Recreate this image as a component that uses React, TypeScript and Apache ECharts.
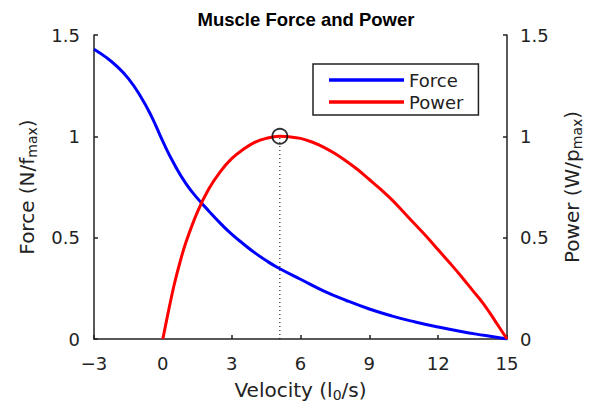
import React, { useEffect, useRef } from "react";
import * as echarts from "echarts";

const forceVelocity = [-3, -2.5, -2, -1.5, -1, -0.5, 0, 0.5, 1, 1.5, 2, 2.5, 3, 3.5, 4, 4.5, 5, 6, 7, 8, 9, 10, 11, 12, 13, 14, 15];
const forceValues = [1.43, 1.392, 1.345, 1.285, 1.203, 1.1, 0.975, 0.862, 0.768, 0.695, 0.632, 0.572, 0.517, 0.47, 0.426, 0.387, 0.353, 0.295, 0.238, 0.19, 0.148, 0.113, 0.084, 0.059, 0.037, 0.018, 0];

const powerVelocity = [0, 0.25, 0.5, 0.75, 1, 1.5, 2, 2.5, 3, 3.5, 4, 4.5, 5.1, 5.5, 6, 6.5, 7, 7.5, 8, 8.5, 9, 9.5, 10, 10.5, 11, 11.5, 12, 12.5, 13, 13.5, 14, 14.5, 15];
const powerValues = [0, 0.14, 0.27, 0.38, 0.475, 0.625, 0.74, 0.825, 0.89, 0.935, 0.97, 0.99, 1.0, 0.998, 0.99, 0.972, 0.947, 0.915, 0.877, 0.835, 0.787, 0.738, 0.685, 0.625, 0.565, 0.505, 0.44, 0.376, 0.31, 0.24, 0.17, 0.086, 0];

const peakPoint = [5.1, 1.0];
const xTicks = { min: -3, max: 15, interval: 3 };
const yTicks = { min: 0, max: 1.5, interval: 0.5 };

const FONT = "DejaVu Sans";
const INK = "#222";

const subRich = { sub: { fontSize: 14, fontFamily: FONT, color: INK, verticalAlign: "bottom", padding: [10, 0, 0, 0] } };

export default function App() {
  const ref = useRef<HTMLDivElement>(null);
  useEffect(() => {
    if (!ref.current) return;
    const chart = echarts.init(ref.current, undefined, { renderer: "svg" });
    const axisCommon = {
      axisLine: { show: true, onZero: false, lineStyle: { color: INK, width: 1.5 } },
      axisTick: { show: true, inside: true, length: 4, lineStyle: { color: INK, width: 1.5 } },
      splitLine: { show: false },
      nameTextStyle: { color: INK, fontSize: 20, fontFamily: FONT, rich: subRich },
    };
    const label = (margin: number) => ({
      color: INK,
      fontSize: 18,
      fontFamily: FONT,
      margin,
      formatter: (v: number) => String(v).replace("-", "\u2212"),
    });
    chart.setOption({
      animation: false,
      backgroundColor: "#fff",
      title: {
        text: "Muscle Force and Power",
        left: 301,
        textAlign: "center",
        top: 5,
        textStyle: { fontFamily: "Liberation Sans", fontSize: 18.5, fontWeight: "bold", color: "#000" },
      },
      grid: { left: 94, right: 85, top: 35, bottom: 75 },
      legend: {
        data: [
          { name: "Force", icon: "rect" },
          { name: "Power", icon: "rect" },
        ],
        orient: "vertical",
        left: 313,
        top: 64,
        itemWidth: 75,
        itemHeight: 3.5,
        itemGap: 4,
        padding: [7, 15, 4, 16],
        borderColor: INK,
        borderWidth: 1.5,
        textStyle: { color: INK, fontSize: 18, fontFamily: FONT },
      },
      xAxis: {
        type: "value",
        ...xTicks,
        ...axisCommon,
        axisLabel: label(15),
        name: "Velocity (l{sub|0}/s)",
        nameLocation: "middle",
        nameGap: 39,
      },
      yAxis: [
        {
          type: "value",
          ...yTicks,
          ...axisCommon,
          axisLabel: label(14),
          name: "Force (N/f{sub|max})",
          nameLocation: "middle",
          nameRotate: 90,
          nameGap: 55,
        },
        {
          type: "value",
          position: "right",
          ...yTicks,
          ...axisCommon,
          axisLabel: label(13),
          name: "Power (W/p{sub|max})",
          nameLocation: "middle",
          nameRotate: 90,
          nameGap: 53,
        },
      ],
      series: [
        {
          name: "dotted",
          type: "line",
          yAxisIndex: 1,
          data: [[peakPoint[0], 0], peakPoint],
          symbol: "none",
          lineStyle: { color: "#000", width: 1, type: [1, 3] },
          silent: true,
          z: 1,
        },
        {
          name: "Force",
          type: "line",
          yAxisIndex: 0,
          data: forceVelocity.map((v, i) => [v, forceValues[i]]),
          smooth: 0.5,
          symbol: "none",
          color: "#0000ff",
          lineStyle: { color: "#0000ff", width: 3 },
          z: 3,
        },
        {
          name: "Power",
          type: "line",
          yAxisIndex: 1,
          data: powerVelocity.map((v, i) => [v, powerValues[i]]),
          smooth: 0.4,
          symbol: "none",
          color: "#ff0000",
          lineStyle: { color: "#ff0000", width: 3 },
          z: 3,
        },
        {
          name: "peak",
          type: "scatter",
          yAxisIndex: 1,
          data: [peakPoint],
          symbol: "circle",
          symbolSize: 15,
          itemStyle: { color: "rgba(0,0,0,0)", borderColor: "#000", borderWidth: 1.8 },
          z: 5,
        },
      ],
    });
    return () => chart.dispose();
  }, []);
  return <div ref={ref} style={{ position: "absolute", left: 0, top: 0, width: 592, height: 414 }} />;
}
